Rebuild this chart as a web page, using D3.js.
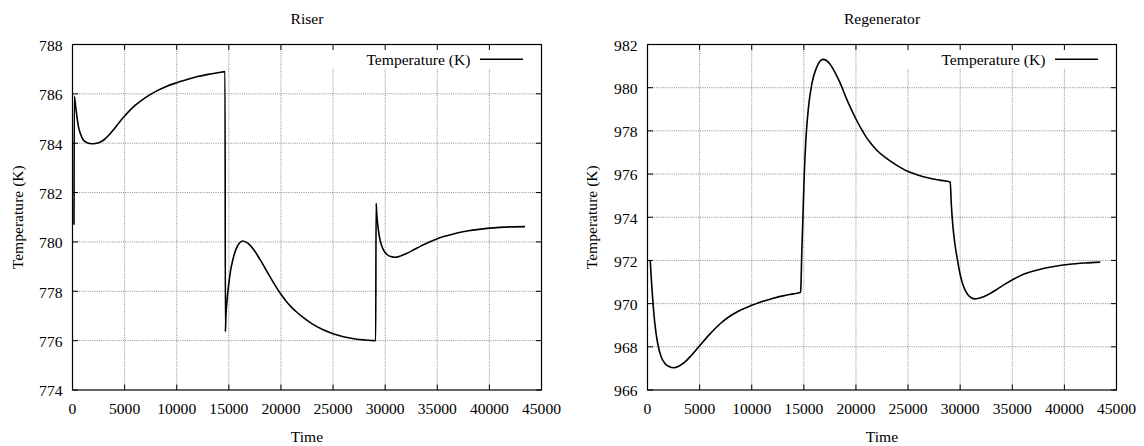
<!DOCTYPE html>
<html>
<head>
<meta charset="utf-8">
<script src="https://cdn.jsdelivr.net/npm/d3@7"></script>
<style>
  html, body { margin: 0; padding: 0; background: #fff; }
  svg { display: block; }
  text { font-family: "Liberation Serif", "Times New Roman", serif; font-size: 15.6px; fill: #000; }
</style>
</head>
<body>
<svg id="chart" width="1144" height="446"></svg>
<script>
// ---- data ----
const xTicks = [0, 5000, 10000, 15000, 20000, 25000, 30000, 35000, 40000, 45000];
const riserYTicks = [774, 776, 778, 780, 782, 784, 786, 788];
const regenYTicks = [966, 968, 970, 972, 974, 976, 978, 980, 982];
const titles = ["Riser", "Regenerator"];
const xLabel = "Time";
const yLabel = "Temperature (K)";
const seriesName = "Temperature (K)";

const riserTime = [144, 175, 300, 450, 556, 750, 1036, 1400, 1842, 2000, 2500, 3000, 3500, 4000, 4500, 5000, 5500, 6000, 7000, 8000, 9000, 10000, 11000, 12000, 13000, 14000, 14633,
  14670, 14720, 14800, 14950, 15150, 15400, 15700, 16000, 16331, 16700, 17000, 17500, 18000, 18500, 19000, 19500, 20000, 20500, 21000, 21500, 22000, 23000, 24000, 25000, 26000, 27000, 28000, 29092,
  29130, 29200, 29300, 29450, 29650, 29900, 30200, 30600, 30950, 31400, 32000, 32700, 33400, 34200, 35000, 36000, 37000, 38000, 39000, 40000, 41000, 42000, 43417];
const riserTemp = [780.7, 785.9, 785.5, 785.0, 784.7, 784.4, 784.13, 784.02, 783.98, 783.98, 784.02, 784.13, 784.33, 784.58, 784.85, 785.1, 785.33, 785.53, 785.85, 786.1, 786.3, 786.45, 786.58, 786.7, 786.79, 786.86, 786.90,
  776.36, 777.0, 777.5, 778.15, 778.8, 779.3, 779.72, 779.95, 780.04, 779.98, 779.88, 779.62, 779.28, 778.92, 778.55, 778.2, 777.88, 777.6, 777.36, 777.16, 776.98, 776.68, 776.45, 776.28, 776.16, 776.08, 776.03, 776.0,
  781.57, 781.1, 780.65, 780.2, 779.87, 779.63, 779.48, 779.4, 779.38, 779.42, 779.52, 779.67, 779.83, 779.99, 780.13, 780.26, 780.37, 780.45, 780.51, 780.56, 780.59, 780.61, 780.62];

const regenTime = [259, 400, 518, 700, 960, 1300, 1698, 2100, 2495, 3000, 3600, 4200, 5000, 6000, 7000, 8000, 9000, 10000, 11000, 12000, 13000, 14000, 14651,
  14700, 14800, 14911, 15035, 15198, 15448, 15774, 16254, 16830, 17000, 17500, 18000, 18500, 19000, 19500, 20000, 20500, 21000, 21500, 22000, 23000, 24000, 25000, 26000, 27000, 28000, 29044,
  29150, 29300, 29500, 29750, 30000, 30250, 30500, 30800, 31100, 31400, 31800, 32300, 32800, 33500, 34300, 35200, 36200, 37500, 39000, 40500, 42000, 43437];
const regenTemp = [972.0, 970.9, 970.1, 969.1, 968.2, 967.55, 967.22, 967.08, 967.03, 967.1, 967.3, 967.6, 968.05, 968.6, 969.08, 969.45, 969.72, 969.92, 970.1, 970.24, 970.36, 970.45, 970.51,
  970.6, 972.3, 974.0, 975.9, 977.6, 979.1, 980.2, 980.97, 981.31, 981.3, 981.1, 980.7, 980.2, 979.6, 979.05, 978.55, 978.1, 977.7, 977.38, 977.1, 976.7, 976.38, 976.12, 975.95, 975.82, 975.72, 975.63,
  974.6, 973.6, 972.75, 972.0, 971.35, 970.9, 970.6, 970.38, 970.26, 970.22, 970.25, 970.33, 970.45, 970.65, 970.9, 971.15, 971.38, 971.57, 971.72, 971.82, 971.88, 971.92];

// ---- layout ----
const svg = d3.select("#chart");
const panels = [
  { left: 72.5, right: 541.5, top: 44.5, bottom: 390, yTicks: riserYTicks, time: riserTime, temp: riserTemp,
    title: titles[0], ylabX: 22.5, keyLeft: 325 },
  { left: 647.5, right: 1116.5, top: 44.5, bottom: 390, yTicks: regenYTicks, time: regenTime, temp: regenTemp,
    title: titles[1], ylabX: 597.3, keyLeft: 899 }
];

panels.forEach(p => {
  const g = svg.append("g");
  const x = d3.scaleLinear().domain([xTicks[0], xTicks[xTicks.length - 1]]).range([p.left, p.right]);
  const y = d3.scaleLinear().domain([p.yTicks[0], p.yTicks[p.yTicks.length - 1]]).range([p.bottom, p.top]);

  // grid
  g.append("g").selectAll("line").data(xTicks.slice(1, -1)).join("line")
    .attr("x1", d => x(d)).attr("x2", d => x(d)).attr("y1", p.top).attr("y2", p.bottom)
    .attr("stroke", "#8a8a8a").attr("stroke-width", 1).attr("stroke-dasharray", "1,1.2");
  g.append("g").selectAll("line").data(p.yTicks.slice(1, -1)).join("line")
    .attr("x1", p.left).attr("x2", p.right).attr("y1", d => y(d)).attr("y2", d => y(d))
    .attr("stroke", "#8a8a8a").attr("stroke-width", 1).attr("stroke-dasharray", "1,1.2");

  // opaque key area
  g.append("rect").attr("x", p.keyLeft).attr("y", p.top).attr("width", p.right - p.keyLeft).attr("height", 24)
    .attr("fill", "#fff");

  // ticks (inward, mirrored)
  const tl = 5.5;
  xTicks.forEach(t => {
    g.append("line").attr("x1", x(t)).attr("x2", x(t)).attr("y1", p.bottom).attr("y2", p.bottom - tl).attr("stroke", "#000");
    g.append("line").attr("x1", x(t)).attr("x2", x(t)).attr("y1", p.top).attr("y2", p.top + tl).attr("stroke", "#000");
  });
  p.yTicks.forEach(t => {
    g.append("line").attr("x1", p.left).attr("x2", p.left + tl).attr("y1", y(t)).attr("y2", y(t)).attr("stroke", "#000");
    g.append("line").attr("x1", p.right).attr("x2", p.right - tl).attr("y1", y(t)).attr("y2", y(t)).attr("stroke", "#000");
  });

  // frame
  g.append("rect").attr("x", p.left).attr("y", p.top).attr("width", p.right - p.left).attr("height", p.bottom - p.top)
    .attr("fill", "none").attr("stroke", "#000").attr("stroke-width", 1.2);

  // tick labels
  g.append("g").selectAll("text").data(xTicks).join("text")
    .attr("x", d => x(d)).attr("y", p.bottom + 24).attr("text-anchor", "middle").text(d => d);
  g.append("g").selectAll("text").data(p.yTicks).join("text")
    .attr("x", p.left - 10).attr("y", d => y(d) + 6.3).attr("text-anchor", "end").text(d => d);

  // titles & labels
  g.append("text").attr("x", (p.left + p.right) / 2).attr("y", 24).attr("text-anchor", "middle").text(p.title);
  g.append("text").attr("x", (p.left + p.right) / 2).attr("y", 441.5).attr("text-anchor", "middle").text(xLabel);
  g.append("text").attr("transform", `translate(${p.ylabX},${(p.top + p.bottom) / 2}) rotate(-90)`)
    .attr("text-anchor", "middle").text(yLabel);

  // key
  const keyY = 59.3;
  g.append("text").attr("x", p.right - 71).attr("y", keyY + 5.7).attr("text-anchor", "end").text(seriesName);
  g.append("line").attr("x1", p.right - 61.5).attr("x2", p.right - 18.5).attr("y1", keyY).attr("y2", keyY)
    .attr("stroke", "#000").attr("stroke-width", 1.5);

  // curve
  const pts = p.time.map((t, i) => [t, p.temp[i]]);
  const line = d3.line().x(d => x(d[0])).y(d => y(d[1])).curve(d3.curveMonotoneX);
  g.append("path").datum(pts).attr("d", line).attr("fill", "none")
    .attr("stroke", "#000").attr("stroke-width", 1.6).attr("stroke-linejoin", "round");
});
</script>
</body>
</html>
